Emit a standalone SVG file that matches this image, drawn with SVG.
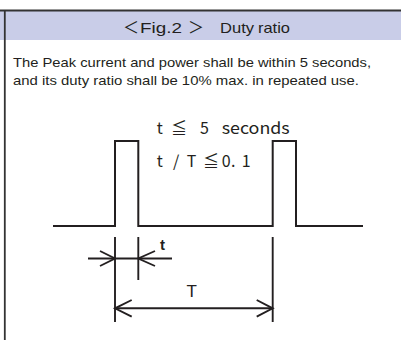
<svg xmlns="http://www.w3.org/2000/svg" width="401" height="340" viewBox="0 0 401 340">
  <style>
    .ln { fill: none; stroke: #231f20; stroke-width: 2; stroke-linejoin: miter; stroke-linecap: butt; }
    .dim { fill: none; stroke: #231f20; stroke-width: 1.9; }
    .sans { font-family: "Liberation Sans", Arial, "Noto Sans CJK JP", sans-serif; fill: #231f20; }
    .jp { font-family: "Noto Sans CJK JP", "Noto Sans", sans-serif; fill: #231f20; font-size: 16px; }
  </style>
  <rect x="0" y="0" width="401" height="340" fill="#ffffff"/>
  <g id="frame">
    <rect x="0" y="11" width="401" height="29" fill="#c9cde8"/>
    <line x1="0" y1="10.5" x2="401" y2="10.5" stroke="#333333" stroke-width="2"/>
    <line x1="4.8" y1="10" x2="4.8" y2="340" stroke="#333333" stroke-width="1.8"/>
  </g>
  <g id="header">
    <text class="sans" font-size="15" y="32.5"><tspan x="123" font-family="Noto Sans CJK JP, sans-serif" font-size="16">＜</tspan><tspan x="140" textLength="42" lengthAdjust="spacingAndGlyphs">Fig.2</tspan><tspan x="188" font-family="Noto Sans CJK JP, sans-serif" font-size="16">＞</tspan><tspan x="220" textLength="34" lengthAdjust="spacingAndGlyphs">Duty</tspan><tspan x="258" textLength="32" lengthAdjust="spacingAndGlyphs">ratio</tspan></text>
  </g>
  <g id="description">
    <text class="sans" font-size="13" x="13" y="66.5" textLength="358" lengthAdjust="spacingAndGlyphs">The Peak current and power shall be within 5 seconds,</text>
    <text class="sans" font-size="13" x="13" y="84.5" textLength="346" lengthAdjust="spacingAndGlyphs">and its duty ratio shall be 10% max. in repeated use.</text>
  </g>
  <g id="waveform">
    <polyline class="ln" points="53,226 115,226 115,141 138.3,141 138.3,226 272.7,226 272.7,141 296,141 296,226 363,226"/>
  </g>
  <g id="conditions">
    <text class="jp" y="134.3"><tspan x="156.7">t</tspan><tspan x="171">≦</tspan><tspan x="200">5</tspan><tspan x="221.7" textLength="68" lengthAdjust="spacingAndGlyphs">seconds</tspan></text>
    <text class="jp" y="166.7"><tspan x="156.7">t</tspan><tspan x="173">/</tspan><tspan x="186.7">T</tspan><tspan x="203">≦</tspan><tspan x="221.7">0</tspan><tspan x="231">.</tspan><tspan x="241.7">1</tspan></text>
  </g>
  <g id="connectors">
    <line class="dim" x1="115" y1="237" x2="115" y2="322"/>
    <line class="dim" x1="138.3" y1="237" x2="138.3" y2="280"/>
    <line class="dim" x1="272.7" y1="237" x2="272.7" y2="322"/>
    <line class="dim" x1="88" y1="258.5" x2="172" y2="258.5"/>
    <polyline class="dim" points="100,251 115,258.5 100,266"/>
    <polyline class="dim" points="155,251 138.3,258.5 155,266"/>
    <line class="dim" x1="115" y1="308.3" x2="272.7" y2="308.3"/>
    <polyline class="dim" points="131.7,300 115,308.3 131.7,316.7"/>
    <polyline class="dim" points="256.7,300 272.7,308.3 256.7,316.7"/>
  </g>
  <g id="labels">
    <text class="sans" font-size="15" font-weight="bold" x="160" y="250">t</text>
    <text class="sans" font-size="17" x="191.7" y="297.3" text-anchor="middle">T</text>
  </g>
</svg>
